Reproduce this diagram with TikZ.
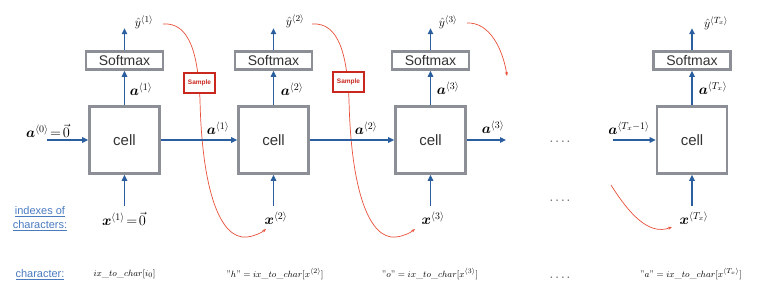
\documentclass[tikz,border=0pt]{standalone}
\usepackage{amsmath,bm}
\usepackage{fontspec}
\setsansfont{Liberation Sans}
\usetikzlibrary{arrows.meta,calc}
\definecolor{cellgray}{HTML}{8C9096}
\definecolor{arrblue}{HTML}{2B5E9E}
\definecolor{curvered}{HTML}{E8503A}
\definecolor{smpred}{HTML}{C8281E}
\definecolor{lblblue}{HTML}{4A7BBF}
\definecolor{dotgray}{HTML}{666666}
\begin{document}
\begin{tikzpicture}[x=1pt,y=-1pt,
  cellbox/.style={draw=cellgray,line width=2.6pt,minimum width=70pt,minimum height=67pt,inner sep=0pt,
    font=\sffamily\fontsize{15}{15}\selectfont,text=black!80},
  softbox/.style={draw=cellgray,line width=2.6pt,minimum width=77pt,minimum height=18pt,inner sep=0pt,
    font=\sffamily\fontsize{14}{14}\selectfont,text=black!80},
  flow/.style={draw=arrblue,line width=1.4pt,-{Triangle[length=6pt,width=5.5pt]}},
  samp/.style={-{Stealth[length=4pt,width=3pt]},draw=curvered,line width=0.7pt},
  smpbox/.style={draw=smpred,line width=2pt,fill=white,minimum width=31pt,minimum height=20pt,inner sep=0pt,
    font=\sffamily\bfseries\fontsize{6.5}{6.5}\selectfont,text=smpred},
  mlab/.style={font=\fontsize{14}{14}\selectfont,inner sep=0pt},
  ylab/.style={font=\fontsize{12.5}{12.5}\selectfont,inner sep=0pt},
  blab/.style={font=\fontsize{9.5}{9.5}\selectfont,inner sep=0pt},
  leftlab/.style={font=\sffamily\fontsize{11}{14}\selectfont,text=lblblue,inner sep=0pt,align=center},
  dots/.style={font=\bfseries\fontsize{10}{10}\selectfont,text=dotgray,inner sep=0pt}
]
\useasboundingbox (0,0) rectangle (781,288);

% red sample curves (behind)
\draw[samp] (163,24) .. controls (190,22) and (198,55) .. (200,100)
  .. controls (202,190) and (220,240) .. (247,237) .. controls (255,236) and (261,233) .. (266,229);
\draw[samp] (312,24) .. controls (339,22) and (347,55) .. (349,100)
  .. controls (351,190) and (369,240) .. (396,237) .. controls (404,236) and (410,233) .. (415,229);
\draw[samp] (467,23) .. controls (490,22) and (503,50) .. (507,76);
\draw[samp] (611,185) .. controls (628,212) and (648,236) .. (672,227);

\node[smpbox] (smp1) at (199.5,83) {Sample};
\node[smpbox] (smp2) at (348.5,82) {Sample};

% cells
\node[cellbox] (c1) at (124.5,140) {cell};
\node[cellbox] (c2) at (273.5,140) {cell};
\node[cellbox] (c3) at (430.5,140) {cell};
\node[cellbox] (c4) at (692,140) {cell};
% softmax
\node[softbox] (s1) at (124.5,60.5) {Softmax};
\node[softbox] (s2) at (273.5,60.5) {Softmax};
\node[softbox] (s3) at (430.5,60.5) {Softmax};
\node[softbox] (s4) at (692,60.5) {Softmax};

% vertical arrows: cell -> softmax -> output, input -> cell
\foreach \i in {1,2,3,4}{
  \draw[flow] (c\i.north) -- (s\i.south);
  \coordinate (yt\i) at ($(s\i.north)+(0,-22)$);
  \draw[flow] (s\i.north) -- (yt\i);
  \coordinate (xb\i) at ($(c\i.south)+(0,31)$);
  \draw[flow] (xb\i) -- (c\i.south);
}

% horizontal arrows
\coordinate (in0) at (47,140);
\coordinate (out3) at (506,140);
\coordinate (in4) at (613,140);
\draw[flow] (in0) -- (c1.west);
\draw[flow] (c1.east) -- (c2.west);
\draw[flow] (c2.east) -- (c3.west);
\draw[flow] (c3.east) -- (out3);
\draw[flow] (in4) -- (c4.west);

% labels on activations
\node[mlab] (a0) at (48,131) {$\bm{a}^{\langle 0\rangle}\!=\!\vec{0}$};
\node[mlab] (ah1) at (218,128) {$\bm{a}^{\langle 1\rangle}$};
\node[mlab] (ah2) at (366,128) {$\bm{a}^{\langle 2\rangle}$};
\node[mlab] (ah3) at (493,127) {$\bm{a}^{\langle 3\rangle}$};
\node[mlab] (ah4) at (629,128) {$\bm{a}^{\langle T_x-1\rangle}$};
\node[mlab] (av1) at (141,89) {$\bm{a}^{\langle 1\rangle}$};
\node[mlab] (av2) at (292,89) {$\bm{a}^{\langle 2\rangle}$};
\node[mlab] (av3) at (448,88) {$\bm{a}^{\langle 3\rangle}$};
\node[mlab] (av4) at (713,88) {$\bm{a}^{\langle T_x\rangle}$};

% output labels
\node[ylab] (y1) at (144,22) {$\hat{y}^{\langle 1\rangle}$};
\node[ylab] (y2) at (295,21) {$\hat{y}^{\langle 2\rangle}$};
\node[ylab] (y3) at (448,22) {$\hat{y}^{\langle 3\rangle}$};
\node[ylab] (y4) at (716,23) {$\hat{y}^{\langle T_x\rangle}$};

% input labels
\node[mlab] (x1) at (124,219) {$\bm{x}^{\langle 1\rangle}\!=\!\vec{0}$};
\node[mlab] (x2) at (276,218) {$\bm{x}^{\langle 2\rangle}$};
\node[mlab] (x3) at (433,218) {$\bm{x}^{\langle 3\rangle}$};
\node[mlab] (x4) at (694,218) {$\bm{x}^{\langle T_x\rangle}$};

% left labels
\node[leftlab] (idx) at (40,219) {\underline{indexes of}\\\underline{characters:}};
\node[leftlab] (chr) at (40,275) {\underline{character:}};

% bottom row
\node[blab] (b1) at (124.5,274) {$ix\_to\_char[i_0]$};
\node[blab] (b2) at (275,274) {$\text{"}h\text{"}=ix\_to\_char[x^{\langle 2\rangle}]$};
\node[blab] (b3) at (430,274) {$\text{"}o\text{"}=ix\_to\_char[x^{\langle 3\rangle}]$};
\node[blab] (b4) at (691,274) {$\text{"}a\text{"}=ix\_to\_char[x^{\langle T_x\rangle}]$};

% dots
\node[dots] (d1) at (560,142) {.\hspace{2.5pt}.\hspace{2.5pt}.\hspace{2.5pt}.};
\node[dots] (d2) at (560,201) {.\hspace{2.5pt}.\hspace{2.5pt}.\hspace{2.5pt}.};
\node[dots] (d3) at (560,278) {.\hspace{2.5pt}.\hspace{2.5pt}.\hspace{2.5pt}.};
\end{tikzpicture}
\end{document}
